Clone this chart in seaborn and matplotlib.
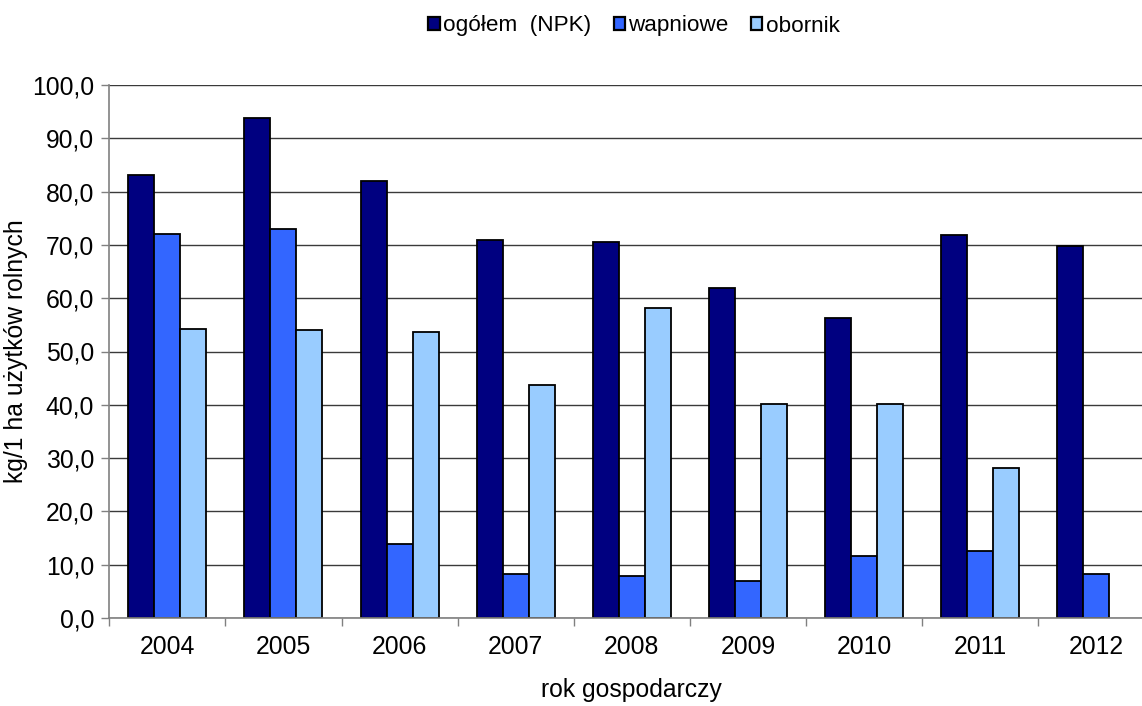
import numpy as np
import pandas as pd
import matplotlib
matplotlib.use("Agg")
import matplotlib.pyplot as plt
from matplotlib.patches import Patch
from matplotlib.ticker import FixedLocator, FuncFormatter
import seaborn as sns

# Fertiliser use per hectare of agricultural land
years = ["2004", "2005", "2006", "2007", "2008", "2009", "2010", "2011", "2012"]
npk = [83.1, 93.8, 81.9, 70.9, 70.6, 61.9, 56.3, 71.9, 69.8]
wapniowe = [72.0, 73.0, 13.9, 8.2, 7.8, 6.9, 11.7, 12.5, 8.2]
obornik = [54.3, 54.1, 53.7, 43.7, 58.2, 40.1, 40.1, 28.2, np.nan]

series = ["ogółem  (NPK)", "wapniowe", "obornik"]
colors = ["#000080", "#3366FF", "#99CCFF"]

df = pd.DataFrame({
    "rok": years * 3,
    "seria": [s for s in series for _ in years],
    "wartosc": npk + wapniowe + obornik,
})

sns.set_theme(style="white")
plt.rcParams["font.family"] = ["Liberation Sans", "DejaVu Sans"]
plt.rcParams["text.color"] = "black"
plt.rcParams["axes.labelcolor"] = "black"
plt.rcParams["xtick.color"] = "black"
plt.rcParams["ytick.color"] = "black"

fs = 17.8

fig = plt.figure(figsize=(11.42, 7.06), dpi=100)
ax = fig.add_axes([109.3 / 1142, 88 / 706, 1045 / 1142, 533 / 706])

sns.barplot(data=df, x="rok", y="wartosc", hue="seria", order=years,
            hue_order=series, palette=colors, width=0.672, gap=0,
            edgecolor="black", linewidth=1.3, saturation=1, ax=ax,
            legend=False)

ax.set_xlim(-0.5, len(years) - 0.5)
ax.set_ylim(0, 100)
ax.yaxis.set_major_locator(FixedLocator(np.arange(0, 101, 10)))
ax.yaxis.set_major_formatter(FuncFormatter(lambda v, p: f"{v:.1f}".replace(".", ",")))
ax.grid(axis="y", color="#3a3a3a", linewidth=1.0)
ax.set_axisbelow(True)

# Ticks on the x axis sit between the year groups
ax.set_xticks(range(len(years)))
ax.set_xticklabels(years)
ax.xaxis.set_minor_locator(FixedLocator(np.arange(-0.5, len(years), 1.0)))
ax.tick_params(axis="x", which="major", length=0, pad=12, labelsize=fs,
               labelcolor="black")
ax.tick_params(axis="x", which="minor", length=6, width=1, color="#808080",
               direction="out", bottom=True)
ax.tick_params(axis="y", length=6, width=1, color="#808080", direction="out",
               left=True, pad=5, labelsize=fs, labelcolor="black")

for side in ["top", "right"]:
    ax.spines[side].set_visible(False)
for side in ["left", "bottom"]:
    ax.spines[side].set_color("#808080")
    ax.spines[side].set_linewidth(1.2)

ax.set_xlabel("rok gospodarczy", fontsize=fs, labelpad=14, color="black")
ax.set_ylabel("kg/1 ha użytków rolnych", fontsize=fs, labelpad=3, color="black")

handles = [Patch(facecolor=c, edgecolor="black", linewidth=1.6) for c in colors]
fig.legend(handles, series, loc="center", bbox_to_anchor=(634 / 1142, 1 - 26 / 706),
           ncol=3, frameon=False, fontsize=16.2, handlelength=0.5,
           handleheight=0.5, handletextpad=0.15, columnspacing=1.0,
           labelcolor="black")

fig.savefig("out.png", dpi=100)
